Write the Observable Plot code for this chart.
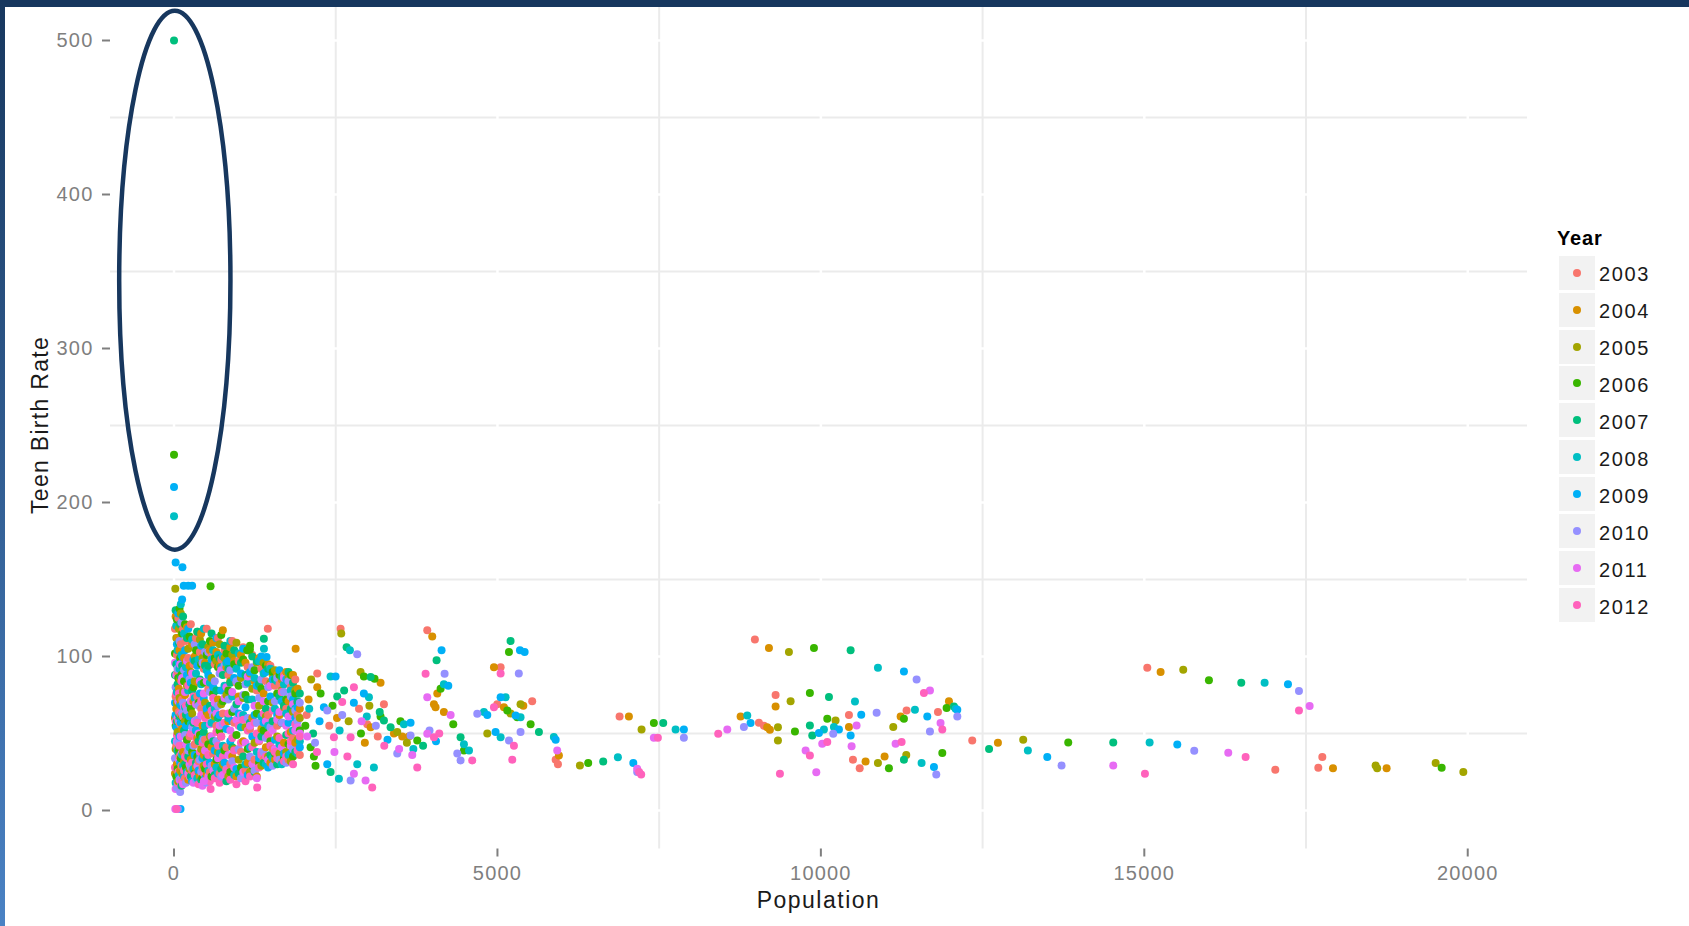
<!DOCTYPE html>
<html>
<head>
<meta charset="utf-8">
<script src="https://cdn.jsdelivr.net/npm/d3@7"></script>
<script src="https://cdn.jsdelivr.net/npm/@observablehq/plot@0.6"></script>
<style>
html,body{margin:0;padding:0;background:#fff;width:1689px;height:926px;overflow:hidden;}
#wrap{position:relative;width:1689px;height:926px;font-family:"Liberation Sans",Arial,sans-serif;}
#chart{position:absolute;left:0;top:0;}
#topbar{position:absolute;left:0;top:0;width:1689px;height:7px;background:#17375e;}
#leftbar{position:absolute;left:0;top:0;width:5px;height:926px;background:linear-gradient(#17375e,#4a82c4);}
.lg-title{position:absolute;left:1557px;top:228px;font-size:20px;line-height:20px;font-weight:bold;letter-spacing:0.8px;color:#000;}
.lg-box{position:absolute;left:1559px;width:36px;height:34px;background:#f2f2f2;}
.lg-dot{position:absolute;left:14px;top:13px;width:8px;height:8px;border-radius:50%;}
.lg-label{position:absolute;left:1599px;font-size:20px;line-height:20px;letter-spacing:1.6px;color:#1a1a1a;}
.plt g[aria-label$="tick label"]{letter-spacing:1.2px;}
</style>
</head>
<body>
<div id="wrap">
  <div id="chart"></div>
  <div id="legend"></div>
  <div id="topbar"></div>
  <div id="leftbar"></div>
</div>
<script>
// ---- data ----
const years = [2003, 2004, 2005, 2006, 2007, 2008, 2009, 2010, 2011, 2012];
const yearColors = ["#F8766D", "#D89000", "#A3A500", "#39B600", "#00BF7D", "#00BFC4", "#00B0F6", "#9590FF", "#E76BF3", "#FF62BC"];
const xTicks = [0, 5000, 10000, 15000, 20000];
const yTicks = [0, 100, 200, 300, 400, 500];
const xMinor = [2500, 7500, 12500, 17500];
const yMinor = [50, 150, 250, 350, 450];

// small counties: [population, rate 2003 ... rate 2012]
const clusterCounties = [
  [15, 118, 24, 60, 102, 88, 45, 70, 34, 96, 28],
  [25, 74, 126, 40, 55, 130, 18, 62, 80, 14, 58],
  [35, 42, 66, 112, 22, 95, 120, 54, 33, 88, 76],
  [45, 101, 30, 70, 124, 58, 77, 108, 15, 45, 49],
  [55, 90, 112, 51, 27, 82, 104, 39, 92, 60, 18],
  [65, 125, 58, 19, 86, 38, 63, 128, 44, 71, 25],
  [75, 64, 79, 118, 40, 109, 23, 96, 58, 33, 76],
  [85, 35, 104, 73, 131, 61, 92, 48, 110, 20, 42],
  [95, 56, 26, 85, 99, 121, 69, 31, 12, 95, 63],
  [105, 108, 71, 128, 34, 87, 134, 57, 21, 48, 16],
  [115, 29, 116, 62, 88, 16, 101, 68, 122, 37, 84],
  [125, 72, 53, 24, 115, 94, 36, 137, 63, 86, 19],
  [140, 118, 38, 77, 60, 126, 29, 99, 70, 17, 61],
  [155, 61, 99, 32, 84, 52, 115, 22, 91, 67, 26],
  [170, 21, 75, 58, 121, 30, 67, 104, 49, 77, 35],
  [185, 110, 43, 96, 28, 62, 93, 55, 18, 43, 68],
  [200, 37, 119, 81, 46, 112, 25, 88, 65, 97, 34],
  [220, 99, 20, 105, 58, 35, 78, 118, 39, 24, 81],
  [240, 48, 94, 27, 113, 69, 41, 61, 85, 30, 22],
  [260, 121, 33, 90, 66, 22, 56, 83, 28, 71, 50],
  [280, 26, 108, 63, 38, 78, 111, 19, 54, 89, 31],
  [300, 95, 71, 36, 80, 57, 27, 98, 42, 18, 74],
  [320, 43, 100, 84, 24, 97, 73, 36, 108, 58, 23],
  [340, 112, 28, 52, 104, 31, 89, 52, 20, 69, 47],
  [360, 74, 47, 116, 35, 116, 21, 94, 59, 29, 57],
  [380, 32, 83, 25, 70, 45, 98, 26, 68, 50, 17],
  [400, 103, 22, 111, 49, 85, 36, 76, 33, 84, 38],
  [420, 66, 115, 40, 95, 20, 82, 107, 25, 62, 71],
  [440, 28, 55, 99, 21, 108, 47, 34, 96, 16, 44],
  [460, 92, 36, 29, 83, 51, 118, 73, 46, 76, 24],
  [480, 46, 96, 70, 27, 94, 55, 21, 103, 39, 60],
  [505, 118, 23, 64, 101, 34, 91, 66, 18, 84, 30],
  [530, 79, 62, 106, 43, 94, 26, 88, 103, 22, 36],
  [555, 25, 104, 48, 110, 68, 83, 31, 77, 56, 19],
  [580, 100, 41, 86, 22, 115, 57, 98, 29, 48, 65],
  [605, 37, 109, 26, 76, 45, 104, 80, 62, 26, 73],
  [630, 95, 30, 61, 99, 23, 66, 39, 84, 70, 21],
  [655, 55, 103, 97, 33, 78, 28, 112, 45, 63, 51],
  [680, 112, 72, 38, 93, 60, 101, 24, 68, 34, 42],
  [705, 24, 94, 108, 52, 99, 37, 62, 89, 55, 18],
  [730, 98, 48, 69, 114, 27, 93, 78, 22, 91, 48],
  [755, 63, 117, 30, 71, 88, 42, 100, 56, 23, 35],
  [780, 104, 29, 99, 39, 107, 81, 31, 94, 73, 57],
  [810, 41, 93, 75, 102, 19, 96, 53, 27, 80, 26],
  [840, 88, 58, 22, 78, 92, 60, 97, 72, 36, 63],
  [870, 30, 106, 84, 25, 83, 110, 45, 91, 52, 20],
  [900, 110, 35, 101, 64, 41, 74, 58, 32, 77, 47],
  [930, 57, 97, 40, 95, 104, 23, 86, 66, 28, 39],
  [965, 83, 22, 109, 49, 69, 92, 27, 84, 59, 17],
  [1000, 97, 74, 33, 81, 24, 102, 63, 40, 71, 55],
  [1035, 38, 101, 86, 28, 96, 54, 89, 21, 62, 44],
  [1070, 106, 45, 73, 98, 35, 62, 105, 75, 25, 59],
  [1105, 26, 96, 54, 75, 88, 30, 67, 82, 44, 19],
  [1140, 93, 31, 104, 40, 72, 83, 23, 60, 87, 52],
  [1175, 53, 89, 25, 107, 57, 41, 90, 35, 55, 22],
  [1210, 101, 60, 79, 29, 100, 72, 48, 93, 30, 41],
  [1245, 33, 84, 44, 91, 25, 86, 62, 26, 68, 57],
  [1280, 78, 22, 96, 63, 97, 38, 81, 57, 21, 50],
  [1315, 45, 99, 68, 31, 82, 97, 34, 73, 46, 28],
  [1350, 92, 53, 29, 79, 48, 61, 100, 85, 38, 36],
  [1385, 33, 76, 96, 52, 31, 89, 57, 38, 71, 63],
  [1420, 84, 41, 61, 94, 66, 30, 90, 47, 58, 35],
  [1455, 62, 95, 35, 71, 92, 55, 28, 80, 33, 49],
  [1490, 94, 31, 83, 45, 36, 92, 74, 54, 81, 42],
  [1525, 40, 88, 70, 90, 58, 34, 85, 29, 52, 65],
  [1560, 81, 33, 91, 37, 85, 66, 46, 71, 40, 38],
  [1595, 55, 88, 48, 76, 30, 84, 62, 86, 59, 34],
  [1630, 82, 62, 37, 88, 74, 43, 91, 33, 64, 47],
  [1665, 31, 85, 78, 57, 87, 30, 71, 57, 41, 77],
  [1700, 88, 44, 67, 34, 68, 82, 37, 77, 86, 32],
  [1735, 66, 90, 38, 72, 49, 63, 85, 31, 55, 35],
  [1770, 33, 71, 86, 43, 90, 36, 57, 84, 61, 50],
  [1805, 80, 51, 32, 88, 66, 78, 37, 74, 42, 45],
  [1840, 47, 88, 64, 35, 83, 52, 72, 40, 69, 30],
  [1875, 85, 44, 78, 76, 38, 66, 60, 65, 52, 56],
  [1910, 62, 79, 46, 70, 71, 37, 67, 58, 54, 39],
  [1945, 36, 66, 60, 52, 76, 45, 41, 70, 50, 48]
];

// other points, [population, rate], by year
const scatter2003 = [[1450,118],[2575,118],[3915,117],[5049,93],[4997,69],[5537,71],[3245,69],[2987,56],[2214,89],[5900,33],[5935,30],[6888,61],[8980,111],[9300,75],[9042,57],[9120,55],[10434,62],[10496,33],[10600,27.5],[11325,65],[11810,64],[12340,45.5],[15046,92.7],[17025,26.4],[17690,27.7],[17752,34.7],[2050,62],[2400,55],[3150,48],[2860,66]];
const scatter2004 = [[1880,105],[3992,113],[4946,93],[5100,67],[5400,68],[2214,80],[3039,54],[3193,83],[3528,48],[3631,48],[4018,69],[4043,67],[4070,76],[4172,64],[5950,35.7],[7032,61],[9197,105.5],[9300,67.6],[9170,54],[9212,52.4],[8759,61],[10434,54.2],[10691,31.8],[10985,35.1],[11233,61],[11980,71],[12737,44],[15252,90],[17917,27.5],[18746,27.5],[2080,72],[2520,60],[2950,44],[3400,50]];
const scatter2005 = [[20,144],[2585,115],[2884,90],[3451,51],[4843,50],[5203,63],[5357,69],[6275,29.3],[7228,52.6],[9336,54],[9336,45.5],[9506,103],[9532,71],[10227,58.5],[10882,30.8],[11119,54.2],[11320,36],[13128,45.9],[15602,91.4],[18576,29.2],[18600,27.5],[19504,30.8],[19932,25],[2120,85],[2700,58],[3020,68],[3600,44]];
const scatter2006 = [[0,231],[565,145.6],[1132,104],[1173,104.6],[2266,76],[2111,41],[2162,35],[2188,29],[2935,87],[3100,85.6],[3193,61],[3760,45.5],[4121,79],[4317,56],[4482,39],[5152,65],[5306,60.6],[5178,103],[5513,56],[6403,30.8],[7418,56.8],[9830,76.3],[9599,51.3],[9893,105.5],[10099,59.6],[11052,27.5],[11284,59.6],[11877,37.3],[11944,66.5],[13824,44.2],[15999,84.5],[19597,27.7],[2030,55],[2450,68],[2890,50],[3500,58]];
const scatter2007 = [[0,500],[1389,111.6],[2668,106],[2523,74],[3039,86.7],[3245,58.5],[3348,54],[4059,97.5],[4430,47.6],[5203,110],[5641,51],[2420,25],[6635,31.8],[7563,56.8],[9830,55.2],[9867,48.7],[10460,104],[10125,73.7],[11284,33],[12057,67.6],[12600,40],[14520,44.2],[16499,83],[2150,50],[2630,78],[3180,64],[3850,42]];
const scatter2008 = [[0,191],[1390,105],[2719,104],[2420,87],[3013,73.6],[3554,56],[4172,82],[4560,39],[4482,43],[4791,64],[5126,73.6],[5049,47.6],[5357,60.6],[5872,47.7],[2549,20.6],[3090,28],[2833,30],[6862,34.6],[7754,52.6],[8862,61.7],[10047,52.6],[10527,70.8],[10882,92.7],[10202,54.2],[11557,30.8],[12083,66.1],[11454,65.4],[13200,39],[15082,44.2],[16860,83],[2090,66],[2560,52],[2980,61],[3700,40]];
const scatter2009 = [[0,210],[25,161],[130,158],[150,146],[220,146],[280,146],[1431,99.7],[2317,67],[2498,87],[2935,76],[4136,104],[4240,81],[4843,62],[4971,51],[5049,73.6],[5281,61.7],[5348,104],[5420,103],[5900,46],[2369,30],[3657,57],[7100,30.8],[7882,52.6],[8913,56.8],[9970,50.3],[10279,52.6],[10460,48.7],[10624,62.2],[11284,90.3],[11645,61.1],[11748,28.2],[12109,65.4],[13500,34.7],[15510,42.9],[17221,81.9],[100,1],[2250,58],[2780,70],[3300,46],[4050,45]];
const scatter2010 = [[2832,101.4],[2369,65],[2730,19.5],[3657,48.7],[3451,37],[4183,88.8],[4379,37],[4430,32.5],[4688,62.8],[5330,89],[5178,45.5],[5357,51],[7160,25],[7882,47.2],[8810,54.2],[10191,49.8],[10862,63.5],[11480,85],[11686,51.3],[11784,23.4],[12109,61.1],[13721,29.2],[15772,38.8],[17391,77.6],[60,1],[2180,44],[2600,62],[3120,55],[3950,52]];
const scatter2011 = [[462,19],[2781,23.8],[2961,19.5],[3683,36],[3915,73.6],[3915,49.8],[4276,62],[5924,39],[7160,27.1],[7418,47.2],[8553,52.6],[9764,39],[9929,24.9],[10021,43.3],[10475,41.8],[10552,55.2],[11155,43.3],[11686,78],[11850,56.8],[14520,29.2],[16298,37.5],[17556,67.8],[20,1],[2060,48],[2480,38],[2900,58],[3480,40]];
const scatter2012 = [[565,14],[1286,15],[2600,70.4],[2730,47.6],[2472,47.6],[2781,80],[3064,15],[3760,28],[4018,47.6],[3889,88.8],[4946,67],[5049,89],[4610,32.5],[5229,33],[5255,42],[7222,23.4],[7190,25],[7480,47.2],[8413,49.8],[9367,23.8],[9830,35.7],[10099,44.4],[11248,44.4],[11593,76.3],[11877,52.6],[15010,23.8],[16566,34.7],[17391,65],[40,1],[2210,38],[2680,35],[3250,42],[4100,50]];

// highlighted outliers (ellipse), in data units
const highlight = {pop: 20, rate: 344, popHalfWidth: 860, rateHalfHeight: 175};

// ---- build table ----
const rows = [];
clusterCounties.forEach(([pop, ...rates]) => rates.forEach((rate, i) => rows.push({pop, rate, year: years[i]})));
[scatter2003, scatter2004, scatter2005, scatter2006, scatter2007, scatter2008, scatter2009, scatter2010, scatter2011, scatter2012]
  .forEach((pts, i) => pts.forEach(([pop, rate]) => rows.push({pop, rate, year: years[i]})));

const plot = Plot.plot({
  width: 1540,
  height: 926,
  marginLeft: 110,
  marginRight: 13,
  marginTop: 1.5,
  marginBottom: 77.5,
  className: "plt",
  style: {background: "transparent", fontFamily: "'Liberation Sans', Arial, sans-serif"},
  x: {domain: [-982, 20924]},
  y: {domain: [-25, 525]},
  color: {type: "ordinal", domain: years, range: yearColors},
  marks: [
    Plot.ruleX(xMinor, {stroke: "#ebebeb", strokeWidth: 2}),
    Plot.ruleY(yMinor, {stroke: "#ebebeb", strokeWidth: 2}),
    Plot.ruleX(xTicks, {stroke: "#ffffff", strokeWidth: 2.5}),
    Plot.ruleY(yTicks, {stroke: "#ffffff", strokeWidth: 2.5}),
    Plot.axisX(xTicks, {tickSize: 8, tickPadding: 9, fontSize: 20, color: "#7f7f7f", strokeWidth: 2, tickFormat: d => String(d), label: null}),
    Plot.axisY(yTicks, {tickSize: 8, tickPadding: 9, fontSize: 20, color: "#7f7f7f", strokeWidth: 2, tickFormat: d => String(d), label: null}),
    Plot.dot(rows, {x: "pop", y: "rate", fill: "year", r: 4})
  ]
});
document.getElementById("chart").appendChild(plot);

const svg = d3.select(plot);
const sx = plot.scale("x"), sy = plot.scale("y");
svg.append("text")
  .attr("x", (sx.range[0] + sx.range[1]) / 2).attr("y", 908)
  .attr("text-anchor", "middle").attr("font-size", 23).attr("letter-spacing", "1.5px")
  .attr("fill", "#1a1a1a").text("Population");
svg.append("text")
  .attr("transform", `translate(48,${(sy.range[0] + sy.range[1]) / 2}) rotate(-90)`)
  .attr("text-anchor", "middle").attr("font-size", 23).attr("letter-spacing", "1.3px")
  .attr("fill", "#1a1a1a").text("Teen Birth Rate");
const cx = sx.apply(highlight.pop), cy = sy.apply(highlight.rate);
svg.append("ellipse")
  .attr("cx", cx).attr("cy", cy)
  .attr("rx", sx.apply(highlight.pop + highlight.popHalfWidth) - cx)
  .attr("ry", cy - sy.apply(highlight.rate + highlight.rateHalfHeight))
  .attr("fill", "none").attr("stroke", "#17375e").attr("stroke-width", 4.5);

// ---- legend ----
const legend = document.getElementById("legend");
const t = document.createElement("div");
t.className = "lg-title"; t.textContent = "Year";
legend.appendChild(t);
years.forEach((yr, i) => {
  const box = document.createElement("div");
  box.className = "lg-box"; box.style.top = (255.7 + i * 36.9) + "px";
  const dot = document.createElement("div");
  dot.className = "lg-dot"; dot.style.background = yearColors[i];
  box.appendChild(dot);
  legend.appendChild(box);
  const lab = document.createElement("div");
  lab.className = "lg-label"; lab.style.top = (264.4 + i * 36.9) + "px";
  lab.textContent = String(yr);
  legend.appendChild(lab);
});
</script>
</body>
</html>
